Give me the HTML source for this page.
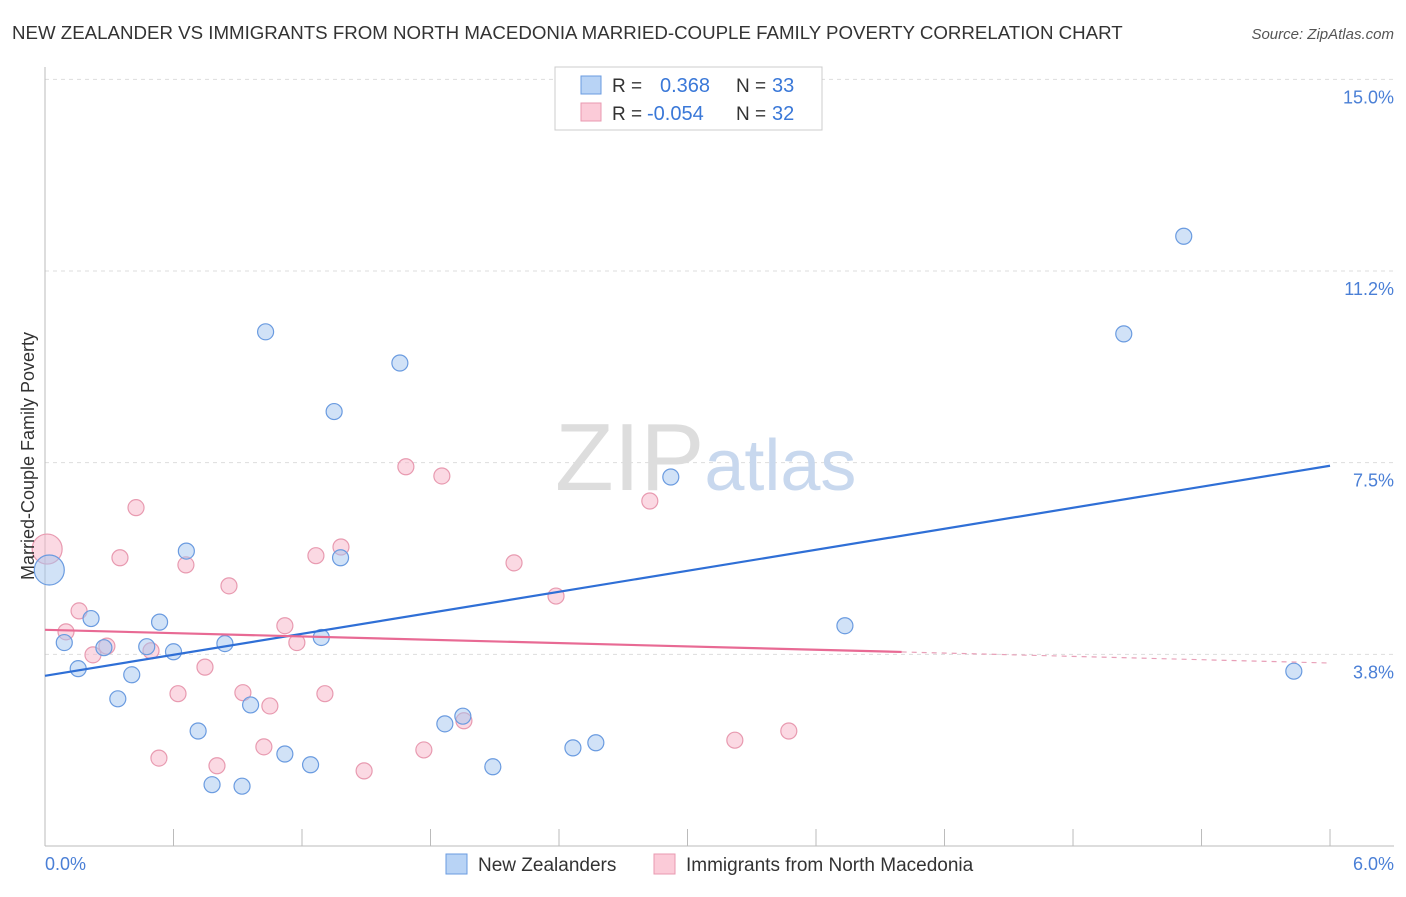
<!DOCTYPE html>
<html><head><meta charset="utf-8"><style>
body{margin:0;background:#fff;font-family:"Liberation Sans",sans-serif;}
svg text{font-family:"Liberation Sans",sans-serif;}
</style></head><body>
<svg id="chart" width="1406" height="892" xmlns="http://www.w3.org/2000/svg">
<text x="12" y="39" font-size="18.7" fill="#333">NEW ZEALANDER VS IMMIGRANTS FROM NORTH MACEDONIA MARRIED-COUPLE FAMILY POVERTY CORRELATION CHART</text>
<text x="1394" y="39" font-size="15" fill="#555" text-anchor="end" font-style="italic">Source: ZipAtlas.com</text>
<g id="grid"></g>
<text x="555" y="490" font-size="96" fill="#ddd" font-family="Liberation Serif">ZIP<tspan fill="#c8d8ee" font-family="Liberation Sans" font-size="72">atlas</tspan></text>
<g id="marks"></g>
<text transform="translate(34,456) rotate(-90)" font-size="18" fill="#333" text-anchor="middle">Married-Couple Family Poverty</text>
<text x="45" y="870" font-size="18" fill="#4a7fd6">0.0%</text>
<text x="1394" y="870" font-size="18" fill="#4a7fd6" text-anchor="end">6.0%</text>
<g>
<rect x="555" y="67" width="267" height="63" fill="#fff" stroke="#ccc"/>
<rect x="581" y="76" width="20" height="18" fill="#b8d3f5" stroke="#6a9be0"/>
<rect x="581" y="103" width="20" height="18" fill="#fbcbd8" stroke="#e89ab0"/>
<text x="612" y="92" font-size="19" fill="#333">R =</text><text x="660" y="92" font-size="20" fill="#3a78d8">0.368</text>
<text x="736" y="92" font-size="19" fill="#333">N =</text><text x="772" y="92" font-size="20" fill="#3a78d8">33</text>
<text x="612" y="120" font-size="19" fill="#333">R =</text><text x="647" y="120" font-size="20" fill="#3a78d8">-0.054</text>
<text x="736" y="120" font-size="19" fill="#333">N =</text><text x="772" y="120" font-size="20" fill="#3a78d8">32</text>
</g>
<g>
<rect x="446" y="854" width="21" height="20" fill="#b8d3f5" stroke="#6a9be0"/>
<text x="478" y="871" font-size="19" fill="#333">New Zealanders</text>
<rect x="654" y="854" width="21" height="20" fill="#fbcbd8" stroke="#e89ab0"/>
<text x="686" y="871" font-size="19" fill="#333">Immigrants from North Macedonia</text>
</g>
</svg>
<script>
const yTicks=[3.75,7.5,11.25,15];
const yTickLabels=["3.8%","7.5%","11.2%","15.0%"];
const blueX=[0.02,0.09,0.155,0.215,0.275,0.34,0.405,0.475,0.535,0.6,0.66,0.715,0.78,0.84,0.92,0.96,1.03,1.12,1.24,1.29,1.35,1.38,1.657,1.867,1.951,2.091,2.465,2.572,2.922,3.735,5.037,5.317,5.831];
const blueY=[5.4,3.98,3.47,4.45,3.88,2.88,3.35,3.9,4.38,3.8,5.77,2.25,1.2,3.96,1.17,2.76,10.06,1.8,1.59,4.08,8.5,5.64,9.45,2.39,2.54,1.55,1.92,2.02,7.22,4.31,10.02,11.93,3.42];
const pinkX=[0.01,0.098,0.159,0.224,0.289,0.35,0.425,0.495,0.532,0.621,0.658,0.747,0.803,0.859,0.924,1.022,1.05,1.12,1.176,1.265,1.307,1.382,1.49,1.685,1.769,1.853,1.956,2.19,2.386,2.824,3.221,3.473];
const pinkY=[5.81,4.19,4.6,3.74,3.91,5.64,6.62,3.82,1.72,2.98,5.5,3.5,1.57,5.09,3.0,1.94,2.74,4.31,3.98,5.68,2.98,5.85,1.47,7.42,1.88,7.24,2.45,5.54,4.89,6.75,2.07,2.25];
const blueTrend=[3.33,7.44];
const pinkTrend=[4.23,3.58];
const pinkSolidEnd=4.0;
const X=v=>45+v*214.17, Y=v=>846-v*51.11;
const NS="http://www.w3.org/2000/svg";
function mk(t,a,p){const e=document.createElementNS(NS,t);for(const k in a)e.setAttribute(k,a[k]);p.appendChild(e);return e;}
const g=document.getElementById('grid'), m=document.getElementById('marks');
yTicks.forEach((t,i)=>{
 const l=mk('line',{x1:45,x2:1394,y1:Y(t),y2:Y(t),stroke:'#ddd','stroke-dasharray':'4,4'},g);
 
 
 const tx=mk('text',{x:1394,y:Y(t)+24,'font-size':18,fill:'#4a7fd6','text-anchor':'end'},g);
 tx.textContent=yTickLabels[i];
 
 
});
const ax=mk('line',{x1:45,x2:1394,y1:846,y2:846,stroke:'#bbb'},g);


const ay=mk('line',{x1:45,x2:45,y1:67,y2:846,stroke:'#bbb'},g);


for(let i=0;i<=10;i++){const t=mk('line',{x1:X(i*0.6),x2:X(i*0.6),y1:829,y2:846,stroke:'#bbb'},g);
 
 }
function pts(xs,ys,fill,stroke,name){xs.forEach((x,i)=>{
 const c=mk('circle',{cx:X(x),cy:Y(ys[i]),r:i==0?15:8,fill:fill,stroke:stroke,'stroke-width':1.2},m);
 
 });}
pts(pinkX,pinkY,'rgba(248,180,200,0.5)','#e89ab0','point-north-macedonia');
pts(blueX,blueY,'rgba(164,198,240,0.5)','#6a9be0','point-new-zealander');
const bl=mk('line',{x1:X(0),y1:Y(blueTrend[0]),x2:X(6),y2:Y(blueTrend[1]),stroke:'#2f6fd6','stroke-width':2.2},m);


const py=v=>pinkTrend[0]+(pinkTrend[1]-pinkTrend[0])*v/6;
const pl=mk('line',{x1:X(0),y1:Y(py(0)),x2:X(pinkSolidEnd),y2:Y(py(pinkSolidEnd)),stroke:'#e86a94','stroke-width':2.2},m);


const pd=mk('line',{x1:X(pinkSolidEnd),y1:Y(py(pinkSolidEnd)),x2:X(6),y2:Y(py(6)),stroke:'#e8a0b8','stroke-width':1.2,'stroke-dasharray':'5,5'},m);


</script>
</body></html>
